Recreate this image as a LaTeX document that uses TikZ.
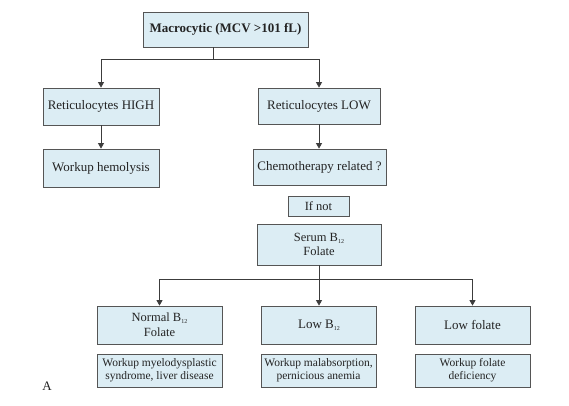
\documentclass[tikz,border=0pt]{standalone}
\usepackage{fontspec}
\setmainfont{Liberation Serif}
\usetikzlibrary{arrows.meta}
\definecolor{boxfill}{RGB}{220,237,244}
\definecolor{boxdraw}{RGB}{85,85,85}
\definecolor{linecol}{RGB}{60,60,60}
\definecolor{txt}{RGB}{35,35,35}
\newcommand{\subtw}{\raisebox{-0.35ex}{\fontsize{6pt}{6pt}\selectfont 12}}
\tikzset{
  box/.style={draw=boxdraw, fill=boxfill, line width=0.8pt, inner sep=0pt, align=center, text=txt, font=\fontsize{13pt}{15pt}\selectfont},
  smallbox/.style={box, font=\fontsize{11.5pt}{13pt}\selectfont},
  conn/.style={draw=linecol, line width=0.8pt},
  arr/.style={conn, -{Triangle[length=5.5pt,width=6pt]}}
}
\begin{document}
\begin{tikzpicture}[x=1pt,y=-1pt]
\path[use as bounding box, fill=white] (0,0) rectangle (569,406);
\node[box, minimum width=165pt, minimum height=35pt, font=\bfseries\fontsize{13pt}{15pt}\selectfont] (top) at (225.5,29.5) {Macrocytic (MCV >101 fL)};
\node[box, minimum width=116pt, minimum height=37pt] (rhigh) at (101,106.5) {Reticulocytes HIGH};
\node[box, minimum width=116pt, minimum height=38pt] (whemo) at (101,168) {Workup hemolysis};
\node[box, minimum width=122pt, minimum height=36pt] (rlow) at (319,106) {Reticulocytes LOW};
\node[box, minimum width=133pt, minimum height=36pt] (chemo) at (319.5,167) {Chemotherapy related ?};
\node[box, minimum width=61pt, minimum height=20pt, font=\fontsize{12.5pt}{14pt}\selectfont] (ifnot) at (318.5,206) {If not};
\node[box, minimum width=124pt, minimum height=41pt, font=\fontsize{12.5pt}{14pt}\selectfont] (serum) at (319,244.5) {Serum B\subtw\\Folate};
\node[box, minimum width=125pt, minimum height=38pt, font=\fontsize{12.5pt}{15pt}\selectfont] (normal) at (159.5,325) {Normal B\subtw\\Folate};
\node[box, minimum width=115pt, minimum height=38pt] (lowb) at (319,325) {Low B\subtw};
\node[box, minimum width=115pt, minimum height=38pt] (lowf) at (472.5,325) {Low folate};
\node[smallbox, minimum width=125pt, minimum height=33pt] (w1) at (159.5,370.5) {Workup myelodysplastic\\syndrome, liver disease};
\node[smallbox, minimum width=115pt, minimum height=33pt] (w2) at (318.5,370.5) {Workup malabsorption,\\pernicious anemia};
\node[smallbox, minimum width=115pt, minimum height=33pt] (w3) at (472.5,370.5) {Workup folate\\deficiency};
\node[text=txt, font=\fontsize{13pt}{15pt}\selectfont, anchor=base] (lab) at (47,390) {A};
\coordinate (tj) at (213,59);
\coordinate (bj) at (319,279);
\draw[conn] (top.south -| tj) -- (tj);
\draw[arr] (tj) -| (rhigh.north);
\draw[arr] (tj) -| (rlow.north);
\draw[arr] (rhigh) -- (whemo);
\draw[arr] (rlow) -- (chemo.north -| rlow);
\draw[conn] (serum.south) -- (bj);
\draw[arr] (bj) -| (normal.north);
\draw[arr] (bj) -- (lowb.north);
\draw[arr] (bj) -| (lowf.north);
\end{tikzpicture}
\end{document}
